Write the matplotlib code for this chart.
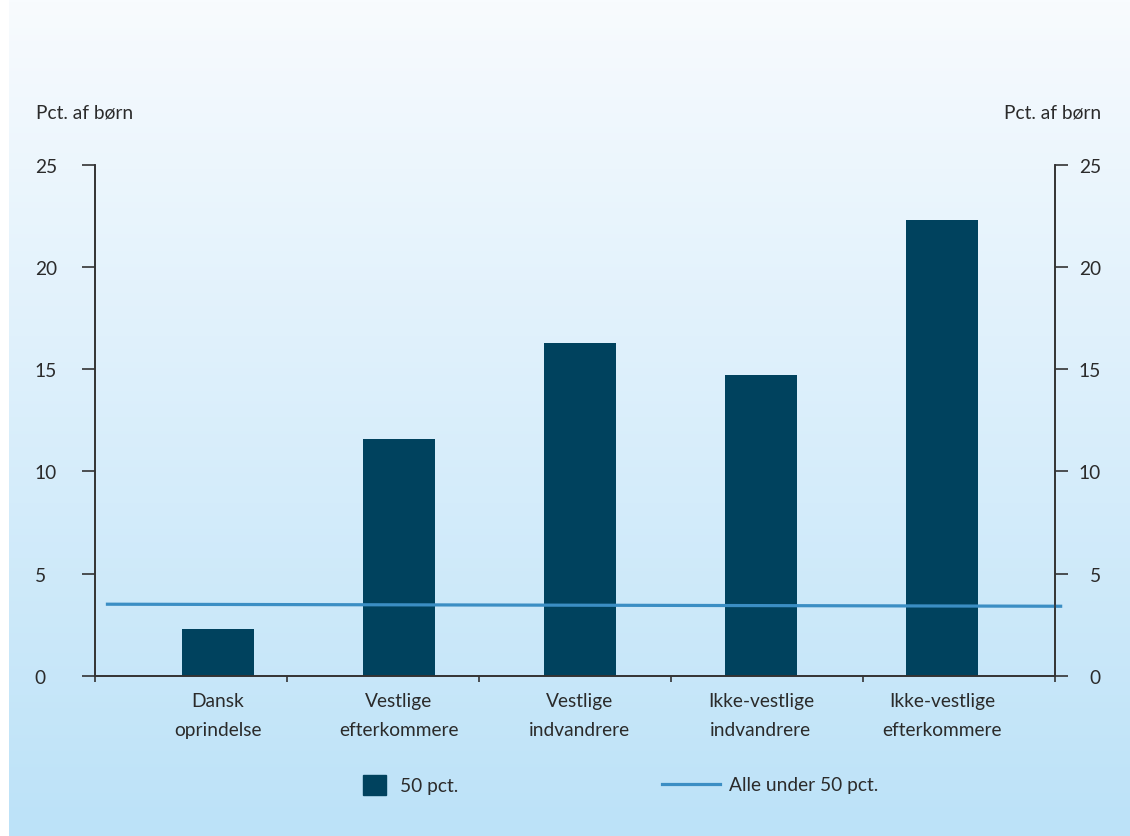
import numpy as np
import matplotlib
matplotlib.use('Agg')
import matplotlib.pyplot as plt
from matplotlib.patches import Patch
from matplotlib.lines import Line2D

plt.rcParams['font.family'] = ['Lato', 'DejaVu Sans']

categories = ['Dansk\noprindelse', 'Vestlige\nefterkommere', 'Vestlige\nindvandrere',
              'Ikke-vestlige\nindvandrere', 'Ikke-vestlige\nefterkommere']
bar_values = [2.3, 11.6, 16.3, 14.7, 22.3]
line_ends = [3.5, 3.4]          # "Alle under 50 pct." (left end, right end)
y_ticks = [0, 5, 10, 15, 20, 25]
bar_label = '50 pct.'
line_label = 'Alle under 50 pct.'
unit_label = 'Pct. af børn'

bar_color = '#00425E'
line_color = '#3B8EC4'
text_color = '#2B2B2B'
axis_color = '#333333'
fs = 13.8

fig = plt.figure(figsize=(11.3, 8.37), dpi=100)

# gradient background panel
bg = fig.add_axes([9 / 1130, 0, 1 - 9 / 1130, 1], zorder=-10)
top = np.array([248, 251, 254]) / 255
bot = np.array([188, 226, 248]) / 255
t = np.linspace(0, 1, 256)[:, None]
grad = top[None, :] * (1 - t) + bot[None, :] * t
bg.imshow(grad[:, None, :], aspect='auto', extent=[0, 1, 0, 1])
bg.axis('off')

ax = fig.add_axes([95 / 1130, 1 - 676.7 / 837, 960 / 1130, 510.7 / 837])
ax.patch.set_alpha(0)

x = np.arange(len(categories))
xlim = (-0.68, 4.625)
ax.bar(x, bar_values, width=0.4, color=bar_color, zorder=2)

# line stretches slightly beyond the plot area
ax.plot([xlim[0] + 0.06, xlim[1] + 0.04], line_ends, color=line_color,
        lw=2.3, zorder=3, clip_on=False, solid_capstyle='butt')

ax.set_xlim(*xlim)
ax.set_ylim(0, 25)

ax2 = ax.twinx()
ax2.set_ylim(0, 25)

for a in (ax, ax2):
    a.spines['top'].set_visible(False)
    for s in a.spines.values():
        s.set_color(axis_color)
        s.set_linewidth(1.2)

ax.set_yticks(y_ticks)
ax2.set_yticks(y_ticks)
ax.tick_params(axis='y', length=9.4, width=1.2, color=axis_color, pad=34,
               labelsize=fs, labelcolor=text_color)
ax2.tick_params(axis='y', length=9.4, width=1.2, color=axis_color, pad=23.7,
                labelsize=fs, labelcolor=text_color)
for lab in ax.get_yticklabels():
    lab.set_ha('left')
for lab in ax2.get_yticklabels():
    lab.set_ha('right')

ax.set_xticks(x)
ax.set_xticklabels(categories, fontsize=fs, color=text_color, linespacing=1.85)
ax.tick_params(axis='x', which='major', length=0, pad=12)
ax.set_xticks(np.linspace(xlim[0], xlim[1], 6), minor=True)
ax.tick_params(axis='x', which='minor', length=4, width=1.2, color=axis_color)

fig.text(36 / 1130, 1 - 113 / 837, unit_label, fontsize=fs, color=text_color,
         ha='left', va='center')
fig.text(1101 / 1130, 1 - 113 / 837, unit_label, fontsize=fs, color=text_color,
         ha='right', va='center')

ly = 1 - 786 / 837
leg1 = fig.legend([Patch(color=bar_color)], [bar_label], loc='center left',
                  bbox_to_anchor=(363 / 1130, ly), frameon=False, fontsize=fs,
                  handlelength=1.2, handleheight=1.2, handletextpad=0.75,
                  borderpad=0, borderaxespad=0, labelcolor=text_color)
leg2 = fig.legend([Line2D([], [], color=line_color, lw=2.3)], [line_label],
                  loc='center left', bbox_to_anchor=(662 / 1130, ly),
                  frameon=False, fontsize=fs, handlelength=3.0,
                  handletextpad=0.5, borderpad=0, borderaxespad=0,
                  labelcolor=text_color)

fig.savefig('out.png', dpi=100)
